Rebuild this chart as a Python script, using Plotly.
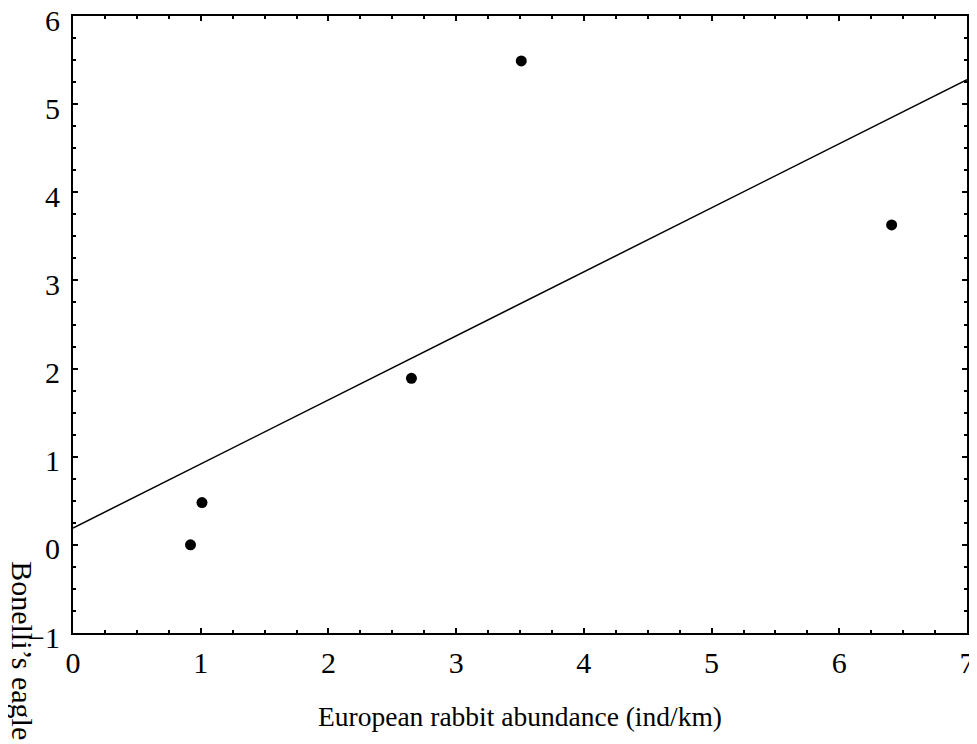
import numpy as np
import plotly.graph_objects as go

# Data
rabbit_abundance = [0.92, 1.01, 2.65, 3.51, 6.41]
eagle_value = [0.00, 0.48, 1.89, 5.49, 3.63]

x_ticks = [0, 1, 2, 3, 4, 5, 6, 7]
y_ticks = [-1, 0, 1, 2, 3, 4, 5, 6]

x_title = "European rabbit abundance (ind/km)"
y_title = "Bonelli\u2019s eagle"

# Regression line fitted to the points
slope, intercept = np.polyfit(rabbit_abundance, eagle_value, 1)
fit_x = [x_ticks[0], x_ticks[-1]]
fit_y = [intercept + slope * v for v in fit_x]

FONT = "Liberation Serif, Times New Roman, serif"

fig = go.Figure()
fig.add_trace(go.Scatter(x=fit_x, y=fit_y, mode="lines",
                         line=dict(color="black", width=1.5),
                         showlegend=False, hoverinfo="skip"))
fig.add_trace(go.Scatter(x=rabbit_abundance, y=eagle_value, mode="markers",
                         marker=dict(color="black", size=11),
                         showlegend=False))

axis_common = dict(
    showgrid=False, zeroline=False, showline=True, linecolor="black",
    linewidth=2, mirror="ticks", ticks="inside", ticklen=5, tickwidth=1.5,
    tickcolor="black", automargin=False, ticklabeloverflow="allow",
    minor=dict(ticks="inside", ticklen=3, tickwidth=1.5, tickcolor="black", dtick=0.25),
    tickfont=dict(family=FONT, size=30, color="black"),
)

fig.update_xaxes(range=[0, 7], tickvals=x_ticks, ticklabelstandoff=2, **axis_common)
fig.update_yaxes(range=[-1, 6], tickvals=y_ticks, ticklabelstandoff=5,
                 ticklabelshift=4, **axis_common)

fig.add_annotation(text=x_title, xref="paper", yref="paper", x=0.5, y=-0.136,
                   xanchor="center", yanchor="middle", showarrow=False,
                   font=dict(family=FONT, size=27.5, color="black"))
fig.add_annotation(text=y_title, xref="paper", yref="paper", x=-0.056, y=0.119,
                   xanchor="center", yanchor="top", showarrow=False, textangle=90,
                   font=dict(family=FONT, size=30, color="black"))

# The page body adds an 8px offset; margins compensate so the plot area
# lands at the same pixels as in the reference.
fig.update_layout(
    width=977, height=744,
    margin=dict(l=65, r=18, t=8, b=119, autoexpand=False),
    plot_bgcolor="white", paper_bgcolor="white",
    font=dict(family=FONT, color="black"),
)

fig.write_html("out.html")
